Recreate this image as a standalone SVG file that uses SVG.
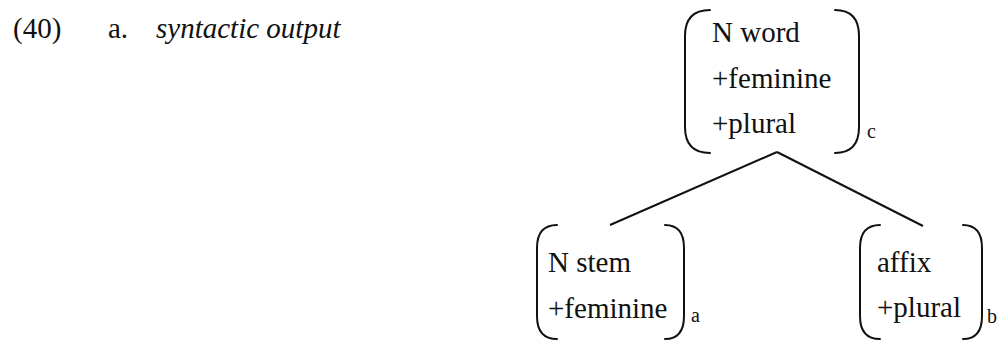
<svg xmlns="http://www.w3.org/2000/svg" width="1002" height="342" viewBox="0 0 1002 342">
<style>
text{font-family:'Liberation Serif','Times New Roman',serif;font-size:29px;fill:#111}
.it{font-style:italic}
.sub{font-size:20px}
.br{fill:none;stroke:#111;stroke-width:2;stroke-linecap:round}
.edge{stroke:#111;stroke-width:2}
</style>
<rect width="1002" height="342" fill="#fff"/>
<g id="header">
<text x="13" y="38">(40)</text>
<text x="108" y="38">a.</text>
<text x="156" y="38" class="it">syntactic output</text>
</g>
<g id="connectors">
<line class="edge" x1="777" y1="152" x2="610" y2="225"/>
<line class="edge" x1="777" y1="152" x2="923" y2="226"/>
</g>
<g id="node-c">
<path class="br" d="M710 10 Q685 10 685 36 L685 127 Q685 153 710 153"/>
<path class="br" d="M835 10 Q859 10 859 36 L859 127 Q859 153 835 153"/>
<text x="712" y="42">N word</text>
<text x="712" y="88">+feminine</text>
<text x="712" y="133">+plural</text>
<text x="867" y="138" class="sub">c</text>
</g>
<g id="node-a">
<path class="br" d="M557 225 Q537 225 537 248 L537 316 Q537 339 557 339"/>
<path class="br" d="M665 225 Q684 225 684 248 L684 316 Q684 339 665 339"/>
<text x="548" y="272">N stem</text>
<text x="548" y="318">+feminine</text>
<text x="691" y="322" class="sub">a</text>
</g>
<g id="node-b">
<path class="br" d="M880 225 Q860 225 860 248 L860 316 Q860 339 880 339"/>
<path class="br" d="M963 225 Q982 225 982 248 L982 316 Q982 339 963 339"/>
<text x="877" y="272">affix</text>
<text x="877" y="317">+plural</text>
<text x="987" y="323" class="sub">b</text>
</g>
</svg>
